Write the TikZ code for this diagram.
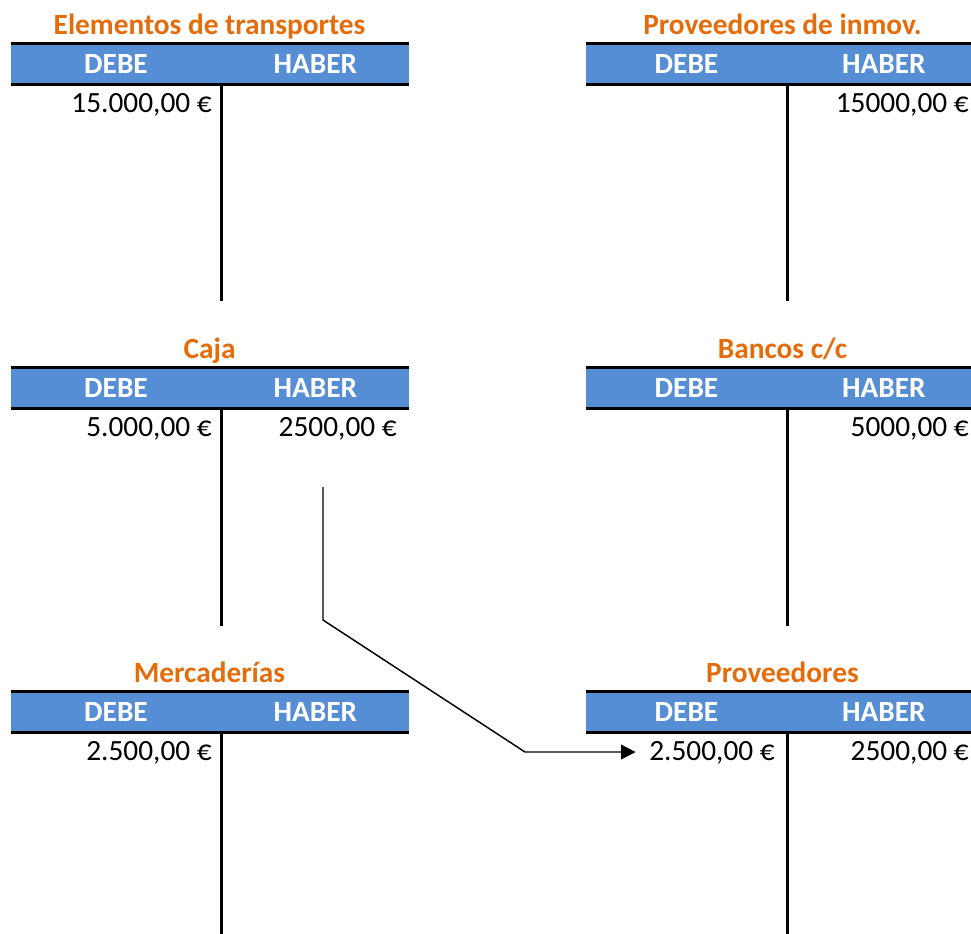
\documentclass[tikz,border=0pt]{standalone}
\usepackage{fontspec}
\setmainfont{Carlito}
\usetikzlibrary{positioning, arrows.meta}
\definecolor{accorange}{HTML}{E46C0A}
\definecolor{accblue}{HTML}{558ED5}
\tikzset{
  accname/.style={font=\fontsize{22}{26}\selectfont\bfseries, text=accorange, anchor=base, inner sep=0pt},
  colhead/.style={rectangle, fill=accblue, draw=accblue, line width=0.6pt, minimum height=30pt, inner sep=0pt, font=\fontsize{22}{26}\selectfont\bfseries, text=white},
  amount/.style={font=\fontsize{22}{26}\selectfont, anchor=base east, inner sep=0pt},
  tline/.style={line width=2.25pt},
  arrow/.style={line width=1.1pt, -{Triangle[length=11pt, width=11pt]}}
}
\begin{document}
\begin{tikzpicture}[x=0.75pt, y=-0.75pt]
  \useasboundingbox (0,0) rectangle (971,933);

  % Elementos de transportes
  \node (etD) [colhead, minimum width=157.5pt] at (116,64) {DEBE};
  \node (etH) [colhead, minimum width=140.25pt, right=0pt of etD] {HABER};
  \node (etT) [accname] at (209.5,34) {Elementos de transportes};
  \node (etD1) [amount] at (212,112) {15.000,00 €};
  \draw [tline] (etD.north west) -- (etH.north east);
  \draw [tline] (etD.south west) -- (etH.south east);
  \draw [tline] (etD.south east) -- ++(0,217);

  % Proveedores de inmov.
  \node (piD) [colhead, minimum width=150.75pt] at (686.5,64) {DEBE};
  \node (piH) [colhead, minimum width=144pt, right=0pt of piD] {HABER};
  \node (piT) [accname] at (782.5,34) {Proveedores de inmov.};
  \node (piH1) [amount] at (969,112) {15000,00 €};
  \draw [tline] (piD.north west) -- (piH.north east);
  \draw [tline] (piD.south west) -- (piH.south east);
  \draw [tline] (piD.south east) -- ++(0,217);

  % Caja
  \node (cjD) [colhead, minimum width=157.5pt] at (116,388) {DEBE};
  \node (cjH) [colhead, minimum width=140.25pt, right=0pt of cjD] {HABER};
  \node (cjT) [accname] at (209.5,358) {Caja};
  \node (cjD1) [amount] at (212,436) {5.000,00 €};
  \node (cjH1) [amount] at (397,436) {2500,00 €};
  \draw [tline] (cjD.north west) -- (cjH.north east);
  \draw [tline] (cjD.south west) -- (cjH.south east);
  \draw [tline] (cjD.south east) -- ++(0,218);

  % Bancos c/c
  \node (bcD) [colhead, minimum width=150.75pt] at (686.5,388) {DEBE};
  \node (bcH) [colhead, minimum width=144pt, right=0pt of bcD] {HABER};
  \node (bcT) [accname] at (782.5,358) {Bancos c/c};
  \node (bcH1) [amount] at (969,436) {5000,00 €};
  \draw [tline] (bcD.north west) -- (bcH.north east);
  \draw [tline] (bcD.south west) -- (bcH.south east);
  \draw [tline] (bcD.south east) -- ++(0,218);

  % Mercaderias
  \node (meD) [colhead, minimum width=157.5pt] at (116,712) {DEBE};
  \node (meH) [colhead, minimum width=140.25pt, right=0pt of meD] {HABER};
  \node (meT) [accname] at (209.5,682) {Mercaderías};
  \node (meD1) [amount] at (212,760) {2.500,00 €};
  \draw [tline] (meD.north west) -- (meH.north east);
  \draw [tline] (meD.south west) -- (meH.south east);
  \draw [tline] (meD.south east) -- ++(0,205);

  % Proveedores
  \node (prD) [colhead, minimum width=150.75pt] at (686.5,712) {DEBE};
  \node (prH) [colhead, minimum width=144pt, right=0pt of prD] {HABER};
  \node (prT) [accname] at (782.5,682) {Proveedores};
  \node (prD1) [amount] at (775,760) {2.500,00 €};
  \node (prH1) [amount] at (969,760) {2500,00 €};
  \draw [tline] (prD.north west) -- (prH.north east);
  \draw [tline] (prD.south west) -- (prH.south east);
  \draw [tline] (prD.south east) -- ++(0,205);

  % pago de caja a proveedores
  \coordinate (cjStart) at (323,487);
  \coordinate (cjBend) at (323,620);
  \coordinate (prKink) at (525,752);
  \draw [arrow, shorten >=10pt] (cjStart) -- (cjBend) -- (prKink) -- (prKink -| prD1.west);
\end{tikzpicture}
\end{document}
